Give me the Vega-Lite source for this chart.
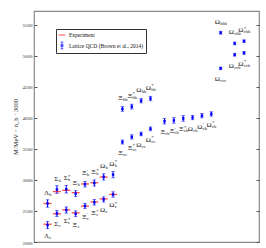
{
  "$schema": "https://vega.github.io/schema/vega-lite/v6.json",
  "width": 225,
  "height": 231,
  "autosize": {"type": "none"},
  "padding": {"left": 34, "top": 11, "right": 7, "bottom": 6},
  "background": "white",
  "config": {
    "view": {"stroke": "#8a8a8a", "strokeWidth": 1.2},
    "font": "Liberation Serif",
    "axis": {"labelFont": "Liberation Serif", "titleFont": "Liberation Serif", "grid": false, "domain": false},
    "axisLeft": {"values": [2000, 2500, 3000, 3500, 4000, 4500, 5000, 5500], "format": "d", "tickSize": -3, "tickColor": "#555",
      "labelFontSize": 5, "labelColor": "#333", "labelPadding": 5, "titleFontSize": 6.5, "titleFontWeight": "normal", "titleColor": "#222", "titlePadding": 4},
    "axisRight": {"values": [2000, 2500, 3000, 3500, 4000, 4500, 5000, 5500], "labels": false, "tickSize": -3, "tickColor": "#555", "title": null},
    "legend": {"orient": "none", "legendX": 22, "legendY": 18, "title": null, "strokeColor": "#333", "fillColor": "white",
      "padding": 2, "labelFont": "Liberation Serif", "labelFontSize": 5.5, "labelColor": "#111", "symbolSize": 45, "rowPadding": 0.5, "labelOffset": 3}
  },
  "resolve": {"axis": {"y": "independent"}},
  "data": {"values": [
    {"x": 1, "s": "Λ", "p": "", "b": "c", "m": 2272, "e": 57, "exp": 2286, "pos": "d"},
    {"x": 1, "s": "Λ", "p": "", "b": "b", "m": 2620, "e": 60, "exp": 2620, "pos": "a"},
    {"x": 2, "s": "Σ", "p": "", "b": "c", "m": 2460, "e": 48, "exp": 2454, "pos": "d"},
    {"x": 2, "s": "Σ", "p": "", "b": "b", "m": 2845, "e": 62, "exp": 2811, "pos": "a"},
    {"x": 3, "s": "Σ", "p": "*", "b": "c", "m": 2515, "e": 50, "exp": 2518, "pos": "d"},
    {"x": 3, "s": "Σ", "p": "*", "b": "b", "m": 2850, "e": 61, "exp": 2832, "pos": "a"},
    {"x": 4, "s": "Ξ", "p": "", "b": "c", "m": 2455, "e": 46, "exp": 2469, "pos": "d"},
    {"x": 4, "s": "Ξ", "p": "", "b": "b", "m": 2780, "e": 47, "exp": 2794, "pos": "a"},
    {"x": 5, "s": "Ξ", "p": "′", "b": "c", "m": 2580, "e": 40, "exp": 2578, "pos": "d"},
    {"x": 5, "s": "Ξ", "p": "′", "b": "b", "m": 2930, "e": 44, "exp": 2935, "pos": "a"},
    {"x": 6, "s": "Ξ", "p": "*", "b": "c", "m": 2640, "e": 45, "exp": 2646, "pos": "d"},
    {"x": 6, "s": "Ξ", "p": "*", "b": "b", "m": 2950, "e": 50, "exp": 2955, "pos": "a"},
    {"x": 7, "s": "Ω", "p": "", "b": "c", "m": 2685, "e": 42, "exp": 2695, "pos": "d"},
    {"x": 7, "s": "Ω", "p": "", "b": "b", "m": 3048, "e": 51, "exp": 3046, "pos": "a"},
    {"x": 8, "s": "Ω", "p": "*", "b": "c", "m": 2765, "e": 44, "exp": 2766, "pos": "d"},
    {"x": 8, "s": "Ω", "p": "*", "b": "b", "m": 3085, "e": 51, "exp": null, "pos": "a"},
    {"x": 9, "s": "Ξ", "p": "", "b": "cc", "m": 3610, "e": 32, "exp": null, "pos": "d"},
    {"x": 10, "s": "Ξ", "p": "*", "b": "cc", "m": 3692, "e": 35, "exp": null, "pos": "d"},
    {"x": 11, "s": "Ω", "p": "", "b": "cc", "m": 3740, "e": 28, "exp": null, "pos": "d"},
    {"x": 12, "s": "Ω", "p": "*", "b": "cc", "m": 3822, "e": 30, "exp": null, "pos": "d"},
    {"x": 9, "s": "Ξ", "p": "", "b": "bb", "m": 4143, "e": 38, "exp": null, "pos": "a"},
    {"x": 10, "s": "Ξ", "p": "*", "b": "bb", "m": 4180, "e": 38, "exp": null, "pos": "a"},
    {"x": 11, "s": "Ω", "p": "", "b": "bb", "m": 4275, "e": 34, "exp": null, "pos": "a"},
    {"x": 12, "s": "Ω", "p": "*", "b": "bb", "m": 4310, "e": 34, "exp": null, "pos": "a"},
    {"x": 13.5, "s": "Ξ", "p": "", "b": "cb", "m": 3945, "e": 43, "exp": null, "pos": "d"},
    {"x": 14.5, "s": "Ξ", "p": "′", "b": "cb", "m": 3958, "e": 45, "exp": null, "pos": "d"},
    {"x": 15.5, "s": "Ξ", "p": "*", "b": "cb", "m": 3990, "e": 45, "exp": null, "pos": "d"},
    {"x": 16.5, "s": "Ω", "p": "", "b": "cb", "m": 4004, "e": 34, "exp": null, "pos": "d"},
    {"x": 17.5, "s": "Ω", "p": "′", "b": "cb", "m": 4035, "e": 35, "exp": null, "pos": "d"},
    {"x": 18.5, "s": "Ω", "p": "*", "b": "cb", "m": 4062, "e": 35, "exp": null, "pos": "d"},
    {"x": 19.5, "s": "Ω", "p": "", "b": "ccc", "m": 4797, "e": 20, "exp": null, "pos": "d"},
    {"x": 19.5, "s": "Ω", "p": "", "b": "bbb", "m": 5370, "e": 22, "exp": null, "pos": "a"},
    {"x": 21, "s": "Ω", "p": "", "b": "ccb", "m": 5015, "e": 22, "exp": null, "pos": "d"},
    {"x": 22, "s": "Ω", "p": "*", "b": "ccb", "m": 5045, "e": 22, "exp": null, "pos": "d"},
    {"x": 21, "s": "Ω", "p": "", "b": "cbb", "m": 5198, "e": 22, "exp": null, "pos": "a"},
    {"x": 22, "s": "Ω", "p": "*", "b": "cbb", "m": 5234, "e": 22, "exp": null, "pos": "a"}
  ]},
  "encoding": {
    "x": {"field": "x", "type": "quantitative", "scale": {"domain": [-0.45, 23.6], "nice": false, "zero": false}, "axis": null}
  },
  "layer": [
    {
      "mark": {"type": "errorbar", "ticks": {"size": 3.5, "color": "#3a3aff", "thickness": 1}, "rule": {"color": "#0000ff", "strokeWidth": 1}},
      "encoding": {
        "y": {"field": "m", "type": "quantitative", "scale": {"domain": [2000, 5720], "nice": false, "zero": false}, "title": "M/MeV − n_b · 3000", "axis": {"orient": "left"}},
        "yError": {"field": "e"}
      }
    },
    {
      "transform": [{"filter": "datum.exp != null"}],
      "mark": {"type": "tick", "orient": "horizontal", "size": 8, "thickness": 1.3},
      "encoding": {
        "y": {"field": "exp", "type": "quantitative", "axis": {"orient": "right", "title": null}},
        "color": {"datum": "Experiment", "type": "nominal",
          "scale": {"domain": ["Experiment", "Lattice QCD (Brown et al., 2014)"], "range": ["#ff0000", "#0000ff"]},
          "legend": {
            "symbolType": {"expr": "datum.value === 'Experiment' ? 'stroke' : 'M-0.3,-0.3H0.3V0.3H-0.3Z M0,-1V1 M-0.4,-1H0.4 M-0.4,1H0.4'"},
            "symbolStrokeColor": {"expr": "datum.value === 'Experiment' ? '#ff0000' : '#0000ff'"},
            "symbolFillColor": {"expr": "datum.value === 'Experiment' ? 'transparent' : '#0000ff'"},
            "symbolStrokeWidth": 1
          }
        }
      }
    },
    {
      "mark": {"type": "square", "size": 6, "filled": true, "opacity": 1},
      "encoding": {
        "y": {"field": "m", "type": "quantitative", "axis": null},
        "color": {"datum": "Lattice QCD (Brown et al., 2014)", "type": "nominal",
          "legend": {
            "symbolType": {"expr": "datum.value === 'Experiment' ? 'stroke' : 'M-0.3,-0.3H0.3V0.3H-0.3Z M0,-1V1 M-0.4,-1H0.4 M-0.4,1H0.4'"},
            "symbolStrokeColor": {"expr": "datum.value === 'Experiment' ? '#ff0000' : '#0000ff'"},
            "symbolFillColor": {"expr": "datum.value === 'Experiment' ? 'transparent' : '#0000ff'"},
            "symbolStrokeWidth": 1
          }}
      }
    },
    {
      "mark": {"type": "text", "font": "Liberation Serif", "fontSize": 7, "color": "#222", "align": "right", "baseline": "middle",
        "dx": {"expr": "2.6 - 1.1*length(datum.b)"}, "dy": {"expr": "datum.pos == 'a' ? -11 : 11"}},
      "encoding": {
        "y": {"field": "m", "type": "quantitative", "axis": null},
        "text": {"field": "s"}
      }
    },
    {
      "mark": {"type": "text", "font": "Liberation Serif", "fontSize": 4.5, "color": "#222", "align": "left", "baseline": "middle",
        "dx": {"expr": "2.9 - 1.1*length(datum.b)"}, "dy": {"expr": "datum.pos == 'a' ? -9 : 13"}},
      "encoding": {
        "y": {"field": "m", "type": "quantitative", "axis": null},
        "text": {"field": "b"}
      }
    },
    {
      "mark": {"type": "text", "font": "Liberation Serif", "fontSize": 5, "color": "#222", "align": "left", "baseline": "middle",
        "dx": {"expr": "2.9 - 1.1*length(datum.b)"}, "dy": {"expr": "datum.pos == 'a' ? -13.5 : 8.5"}},
      "encoding": {
        "y": {"field": "m", "type": "quantitative", "axis": null},
        "text": {"field": "p"}
      }
    }
  ]
}
